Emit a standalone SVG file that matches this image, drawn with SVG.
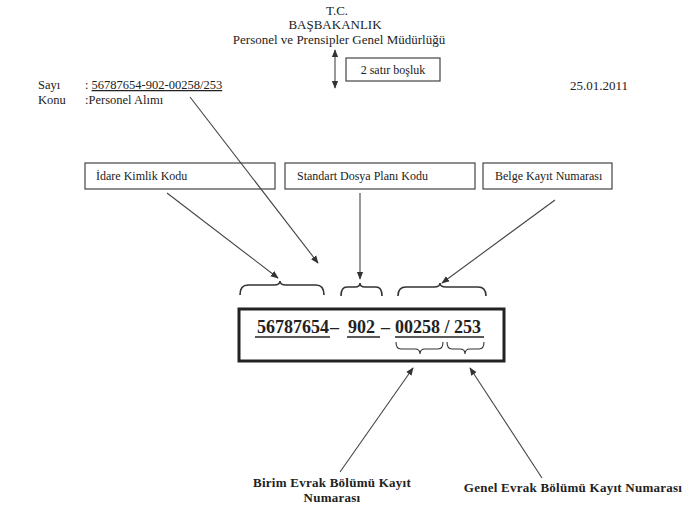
<svg xmlns="http://www.w3.org/2000/svg" width="700" height="515" viewBox="0 0 700 515">
<style>
text{font-family:"Liberation Serif","Times New Roman",serif;fill:#222;}
.t12{font-size:12px;}
.t13{font-size:13px;}
.m{font-size:12.5px;}
.lb{font-size:13px;font-weight:bold;letter-spacing:0.25px;}
.code{font-size:18px;font-weight:bold;}
.box{fill:#fff;stroke:#444;stroke-width:1.2;}
.ln{fill:none;stroke:#444;stroke-width:1.1;}
.br{fill:none;stroke:#333;stroke-width:1.6;}
.ul{stroke:#222;stroke-width:1.3;}
</style>
<defs>
<marker id="ah" viewBox="0 0 10 10" refX="9" refY="5" markerWidth="8" markerHeight="8" orient="auto" markerUnits="userSpaceOnUse">
<path d="M0,1 L10,5 L0,9 z" fill="#333"/>
</marker>
<marker id="ahs" viewBox="0 0 10 10" refX="1" refY="5" markerWidth="8" markerHeight="8" orient="auto" markerUnits="userSpaceOnUse">
<path d="M10,1 L0,5 L10,9 z" fill="#333"/>
</marker>
</defs>
<rect width="700" height="515" fill="#fff"/>

<g id="header">
<text class="t13" x="337" y="15" text-anchor="middle">T.C.</text>
<text class="t13" x="335" y="29" text-anchor="middle">BAŞBAKANLIK</text>
<text class="t13" x="339" y="44" text-anchor="middle">Personel ve Prensipler Genel Müdürlüğü</text>
</g>

<g id="spacing">
<line class="ln" x1="335" y1="50" x2="335" y2="88" marker-start="url(#ahs)" marker-end="url(#ah)"/>
<rect class="box" x="346" y="58" width="94" height="23"/>
<text class="t12" x="393" y="74" text-anchor="middle">2 satır boşluk</text>
</g>

<g id="meta">
<text class="m" x="38" y="89">Sayı</text>
<text class="m" x="85" y="89">: <tspan text-decoration="underline">56787654-902-00258/253</tspan></text>
<text class="m" x="38" y="104">Konu</text>
<text class="m" x="85" y="104">:Personel Alımı</text>
<text class="t13" x="570" y="90">25.01.2011</text>
</g>

<g id="idare">
<rect class="box" x="85" y="163" width="190" height="26"/>
<text class="t12" x="96" y="180">İdare Kimlik Kodu</text>
</g>
<g id="standart">
<rect class="box" x="285" y="163" width="190" height="26"/>
<text class="t12" x="297" y="180">Standart Dosya Planı Kodu</text>
</g>
<g id="belge">
<rect class="box" x="483" y="163" width="129" height="26"/>
<text class="t12" x="495" y="180">Belge Kayıt Numarası</text>
</g>

<g id="code">
<rect x="239" y="309" width="265" height="52" fill="#fff" stroke="#222" stroke-width="3"/>
<text class="code" x="257" y="333">56787654</text>
<text class="code" x="330" y="333">–</text>
<text class="code" x="348" y="333">902</text>
<text class="code" x="381" y="333">–</text>
<text class="code" x="395" y="333">00258 / 253</text>
<line class="ul" x1="255" y1="337" x2="330" y2="337"/>
<line class="ul" x1="347" y1="337" x2="380" y2="337"/>
<line class="ul" x1="395" y1="337" x2="484" y2="337"/>
</g>

<g id="braces">
<path class="br" d="M240,295 Q240,285 248,285 L274,285 Q280,285 280,281 Q280,285 286,285 L316,285 Q324,285 324,295"/>
<path class="br" d="M341,296 Q341,287 347,287 L355,287 Q360,287 360,283 Q360,287 365,287 L376,287 Q382,287 382,296"/>
<path class="br" d="M398,296 Q398,287 406,287 L434,287 Q440,287 440,283 Q440,287 446,287 L478,287 Q486,287 486,296"/>
<path class="br" style="stroke-width:1.1" d="M396,342 Q396,349 401,349 L415,349 Q420,349 420,354 Q420,349 425,349 L438,349 Q443,349 443,342"/>
<path class="br" style="stroke-width:1.1" d="M447,342 Q447,349 452,349 L460,349 Q465,349 465,354 Q465,349 470,349 L479,349 Q484,349 484,342"/>
</g>

<g id="labels">
<text class="lb" x="332" y="487" text-anchor="middle">Birim Evrak Bölümü Kayıt</text>
<text class="lb" x="332" y="502" text-anchor="middle">Numarası</text>
<text class="lb" x="573" y="492" text-anchor="middle">Genel Evrak Bölümü Kayıt Numarası</text>
</g>

<g id="connectors">
<line class="ln" x1="190" y1="97" x2="318" y2="263" marker-end="url(#ah)"/>
<line class="ln" x1="167" y1="193" x2="278" y2="278" marker-end="url(#ah)"/>
<line class="ln" x1="360" y1="193" x2="360" y2="279" marker-end="url(#ah)"/>
<line class="ln" x1="555" y1="200" x2="442" y2="283" marker-end="url(#ah)"/>
<line class="ln" x1="340" y1="472" x2="413" y2="368" marker-end="url(#ah)"/>
<line class="ln" x1="542" y1="478" x2="470" y2="368" marker-end="url(#ah)"/>
</g>
</svg>
